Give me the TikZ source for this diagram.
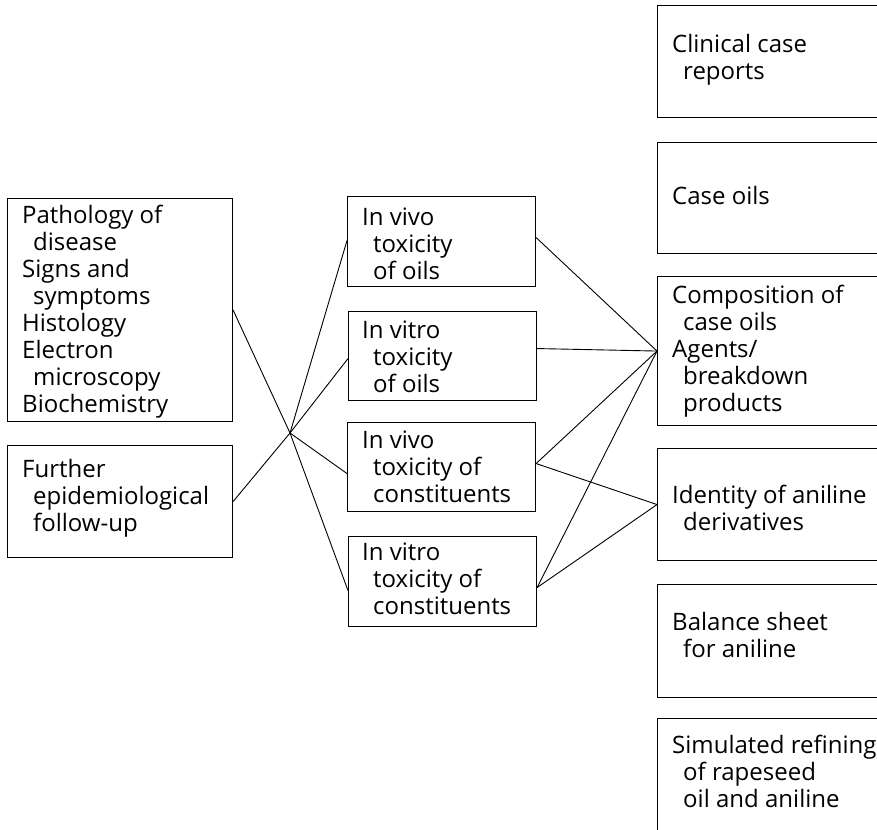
\documentclass[tikz,border=0pt]{standalone}
\usepackage{fontspec}
\setmainfont{Open Sans}
\begin{document}
\begin{tikzpicture}[x=1pt,y=-1pt,
  box/.style={draw,line width=1.1pt,rectangle,inner sep=0pt,anchor=north west},
  txt/.style={anchor=north west,inner sep=0pt,align=left,font=\fontsize{24}{27}\selectfont},
  link/.style={line width=0.9pt}]
\newcommand\fl{\rule{0pt}{20pt}}
\newcommand\ind{\hspace*{11pt}}
\useasboundingbox (0,0) rectangle (877,829);
\clip (0,0) rectangle (877,829);
% left
\node[box,minimum width=225pt,minimum height=223pt] (la) at (7,198) {};
\node[box,minimum width=225pt,minimum height=112pt] (lb) at (7,445) {};
\node[txt] (tla) at (22,203) {\fl Pathology of\\\ind disease\\Signs and\\\ind symptoms\\Histology\\Electron\\\ind microscopy\\Biochemistry};
\node[txt] (tlb) at (22,457) {\fl Further\\\ind epidemiological\\\ind follow-up};
% middle
\node[box,minimum width=188pt,minimum height=90pt] (m1) at (347,196) {};
\node[box,minimum width=188pt,minimum height=89pt] (m2) at (348,311) {};
\node[box,minimum width=188pt,minimum height=89pt] (m3) at (347,422) {};
\node[box,minimum width=188pt,minimum height=90pt] (m4) at (348,536) {};
\node[txt] (tm1) at (362,205) {\fl In vivo\\\ind toxicity\\\ind of oils};
\node[txt] (tm2) at (362,318) {\fl In vitro\\\ind toxicity\\\ind of oils};
\node[txt] (tm3) at (362,428) {\fl In vivo\\\ind toxicity of\\\ind constituents};
\node[txt] (tm4) at (362,540) {\fl In vitro\\\ind toxicity of\\\ind constituents};
% right
\node[box,minimum width=240pt,minimum height=112pt] (r1) at (657,5) {};
\node[box,minimum width=240pt,minimum height=111pt] (r2) at (657,142) {};
\node[box,minimum width=240pt,minimum height=149pt] (r3) at (657,276) {};
\node[box,minimum width=240pt,minimum height=112pt] (r4) at (657,448) {};
\node[box,minimum width=240pt,minimum height=113pt] (r5) at (657,584) {};
\node[box,minimum width=240pt,minimum height=140pt] (r6) at (657,718) {};
\node[txt] (tr1) at (672,32) {\fl Clinical case\\\ind reports};
\node[txt] (tr2) at (672,184) {\fl Case oils};
\node[txt] (tr3) at (672,283) {\fl Composition of\\\ind case oils\\Agents/\\\ind breakdown\\\ind products};
\node[txt] (tr4) at (672,483) {\fl Identity of aniline\\\ind derivatives};
\node[txt] (tr5) at (672,610) {\fl Balance sheet\\\ind for aniline};
\node[txt] (tr6) at (672,733) {\fl Simulated refining\\\ind of rapeseed\\\ind oil and aniline};
% connectors
\coordinate (hub) at (290,433);
\draw[link] (la.east) -- (hub) -- ([yshift=-9pt]m4.west);
\draw[link] (lb.east) -- (hub) -- ([yshift=1pt]m1.west);
\draw[link] (hub) -- ([yshift=-2.5pt]m2.west);
\draw[link] (hub) -- ([yshift=-6.5pt]m3.west);
\draw[link] ([yshift=4pt]m1.east) -- (r3.west);
\draw[link] ([yshift=7.5pt]m2.east) -- (r3.west);
\draw[link] ([yshift=3.5pt]m3.east) -- (r3.west);
\draw[link] ([yshift=3.5pt]m3.east) -- (r4.west);
\draw[link] ([yshift=-6pt]m4.east) -- (r3.west);
\draw[link] ([yshift=-6pt]m4.east) -- (r4.west);
\end{tikzpicture}
\end{document}
